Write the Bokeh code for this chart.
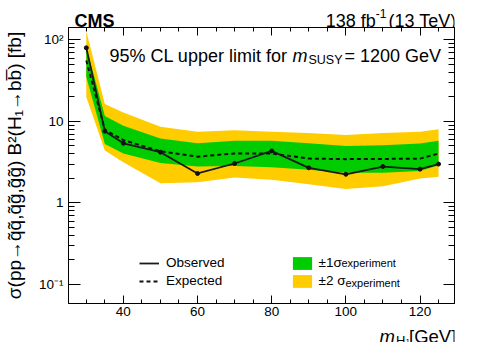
from bokeh.plotting import figure
from bokeh.layouts import column
from bokeh.models import (Range1d, FixedTicker, LinearAxis, LogAxis, Label,
                          Legend, LegendItem, CustomJSTickFormatter)
from bokeh.embed import file_html
from bokeh.resources import INLINE

# ---------------- data ----------------
mass = [30, 35, 40, 50, 60, 70, 80, 90, 100, 110, 120, 125]
observed = [80, 7.6, 5.4, 4.2, 2.3, 3.05, 4.35, 2.7, 2.25, 2.8, 2.6, 3.0]
expected = [56, 7.9, 5.9, 4.3, 3.7, 4.05, 4.05, 3.5, 3.45, 3.47, 3.5, 4.05]
one_sigma_lo = [35, 5.3, 4.05, 3.1, 2.8, 2.85, 2.75, 2.55, 2.35, 2.35, 2.47, 2.9]
one_sigma_hi = [82, 11.7, 8.85, 6.2, 5.4, 5.8, 5.8, 5.4, 5.0, 5.1, 5.37, 5.8]
two_sigma_lo = [20, 4.4, 3.15, 1.75, 1.8, 2.05, 1.93, 1.7, 1.48, 1.6, 2.0, 2.1]
two_sigma_hi = [128, 16.4, 12.9, 8.6, 7.5, 7.8, 7.5, 7.2, 6.8, 7.2, 7.5, 8.0]

x_major_ticks = [40, 60, 80, 100, 120]
x_minor_ticks = [25, 30, 35, 45, 50, 55, 65, 70, 75, 85, 90, 95, 105, 110, 115, 125]
y_major_ticks = [0.1, 1, 10, 100]
y_tick_labels = ["10\u207b\u00b9", "1", "10", "10\u00b2"]
y_minor_ticks = [m * d for d in (0.1, 1, 10) for m in range(2, 10)]

FONT = "Liberation Sans"
GREEN = "#00cc00"
YELLOW = "#ffcc00"
W = 482


def add_label(fig, x, y, text, size, style="normal", align="left"):
    fig.add_layout(Label(x=x, y=y, x_units="screen", y_units="screen", text=text,
                         text_font=FONT, text_font_size=size,
                         text_font_style=style, text_align=align,
                         text_baseline="alphabetic", text_color="black"))


def blank_fig(height):
    f = figure(width=W, height=height, x_range=Range1d(0, 1), y_range=Range1d(0, 1),
               output_backend="svg", toolbar_location=None, min_border=0,
               x_axis_location=None, y_axis_location=None)
    f.grid.visible = False
    f.outline_line_color = None
    f.background_fill_color = "white"
    f.border_fill_color = "white"
    return f


# ---------------- header (CMS / luminosity); frame aligned with plot frame ----
head = blank_fig(27)
add_label(head, 6, 6.7, "CMS", "18px", "bold")
add_label(head, 393, 6.7, " (13 TeV)", "18px", align="right")
add_label(head, 318, 13.7, "-1", "12px", align="right")
add_label(head, 307.3, 6.7, "138 fb", "18px", align="right")

# ---------------- main plot ----------------
p = figure(width=W, height=295,
           x_range=Range1d(25.2, 129.3), y_range=Range1d(0.0585, 142),
           y_axis_type="log", output_backend="svg", toolbar_location=None,
           min_border_left=61, min_border_right=28, min_border_top=0,
           min_border_bottom=19)
p.grid.visible = False
p.outline_line_color = "black"
p.outline_line_width = 1
p.background_fill_color = "white"
p.border_fill_color = "white"

r2 = p.varea(x=mass, y1=two_sigma_lo, y2=two_sigma_hi, fill_color=YELLOW)
r1 = p.varea(x=mass, y1=one_sigma_lo, y2=one_sigma_hi, fill_color=GREEN)
r_exp = p.line(mass, expected, line_color="#111111", line_width=2, line_dash="4 3")
r_obs = p.line(mass, observed, line_color="#1a1a1a", line_width=1.8)
p.scatter(mass, observed, size=4, color="#111111")


def style_axis(ax, tin, tmin, labels=True):
    ax.major_tick_in = tin
    ax.major_tick_out = 0
    ax.minor_tick_in = tmin
    ax.minor_tick_out = 0
    ax.axis_line_color = "black"
    ax.major_tick_line_color = "black"
    ax.minor_tick_line_color = "black"
    ax.major_label_text_font = FONT
    ax.major_label_text_color = "black"
    ax.major_label_text_font_size = "13.5px"
    if not labels:
        ax.formatter = CustomJSTickFormatter(code="return ''")
        ax.major_label_text_font_size = "1px"
        ax.major_label_standoff = 0


xt = FixedTicker(ticks=x_major_ticks, minor_ticks=x_minor_ticks)
yt = FixedTicker(ticks=y_major_ticks, minor_ticks=y_minor_ticks)

xa = p.xaxis[0]
xa.ticker = xt
style_axis(xa, 8, 4)
xa.major_label_standoff = 3

ya = p.yaxis[0]
ya.ticker = yt
style_axis(ya, 12, 6)
ya.major_label_standoff = 5
ya.major_label_overrides = dict(zip(y_major_ticks, y_tick_labels))
ya.axis_label = ("\u03c3(pp\u2192q\u0303q\u0303,q\u0303g\u0303,g\u0303g\u0303) "
                 "B\u00b2(H\u2081\u2192bb\u0305) [fb]")
ya.axis_label_text_font = FONT
ya.axis_label_text_font_style = "normal"
ya.axis_label_text_font_size = "19px"
ya.axis_label_text_color = "black"
ya.axis_label_standoff = 11

top = LinearAxis(ticker=xt)
style_axis(top, 8, 4, labels=False)
p.add_layout(top, "above")
right = LogAxis(ticker=yt)
style_axis(right, 11, 6, labels=False)
p.add_layout(right, "right")

add_label(p, 41, 247.7, "95% CL upper limit for", "18px")
add_label(p, 224, 247.7, "m", "18px", "italic")
add_label(p, 240, 243.7, "SUSY", "12.5px")
add_label(p, 276, 247.7, "= 1200 GeV", "18px")


def make_legend(items, loc, gw, standoff):
    leg = Legend(items=items, location=loc, orientation="vertical",
                 padding=0, spacing=2, glyph_width=gw, glyph_height=16,
                 label_height=16, label_standoff=standoff,
                 label_text_font=FONT, label_text_font_size="13.5px",
                 label_text_color="black", border_line_color=None,
                 background_fill_alpha=0)
    p.add_layout(leg)


make_legend([LegendItem(label="Observed", renderers=[r_obs]),
             LegendItem(label="Expected", renderers=[r_exp])], (71, 14.5), 20, 7)
make_legend([LegendItem(label="\u00b11\u03c3", renderers=[r1]),
             LegendItem(label="\u00b12 \u03c3", renderers=[r2])], (221.6, 14.5), 24, 5)
add_label(p, 273, 41, "experiment", "11px")
add_label(p, 277, 21, "experiment", "11px")

# ---------------- footer (x-axis title); frame aligned with plot frame ----
foot = blank_fig(20)
add_label(foot, 311, 6, "m", "18.5px", "italic")
add_label(foot, 327.5, 2.5, "H", "13px")
add_label(foot, 337, 1.0, "1", "8px")
add_label(foot, 340.5, 6, " [GeV]", "18.5px")

layout = column(head, p, foot, spacing=0)
open("out.html", "w").write(file_html(layout, INLINE))
